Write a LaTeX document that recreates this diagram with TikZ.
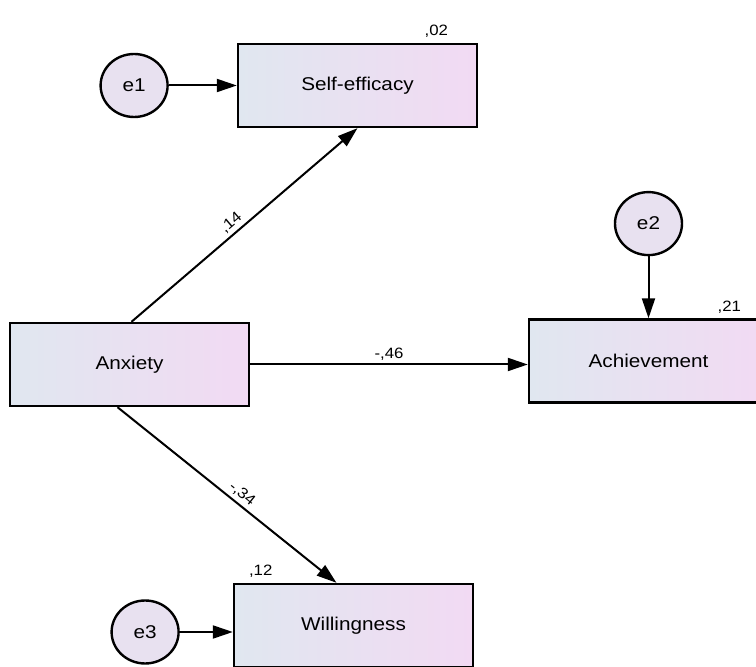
\documentclass[tikz,border=0pt]{standalone}
\usepackage{fontspec}
\usetikzlibrary{arrows.meta,positioning,shapes.geometric}
\newfontfamily\amosfont[FakeStretch=1.12]{Liberation Sans}
\definecolor{boxleft}{RGB}{224,231,240}
\definecolor{boxright}{RGB}{242,218,243}
\definecolor{errfill}{RGB}{232,225,240}

\begin{document}
\begin{tikzpicture}[x=1pt,y=1pt,>={Triangle[length=20pt,width=13pt]},
  obs node/.style={rectangle,draw,line width=2.4pt,left color=boxleft,right color=boxright,
    minimum width=239pt,minimum height=83pt,inner sep=0pt,font=\amosfont\fontsize{18.5}{21}\selectfont},
  err node/.style={ellipse,draw,line width=2.4pt,fill=errfill,minimum width=67pt,minimum height=63pt,
    inner sep=0pt,font=\amosfont\fontsize{18.5}{21}\selectfont},
  reg/.style={->,line width=2pt},
  est/.style={font=\amosfont\fontsize{15}{17}\selectfont,inner sep=3pt}]
  \clip (0,0) rectangle (756,667);
  \node[obs node] (anx) at (129.5,302.5) {Anxiety};
  \node[obs node] (se) at (357.5,581.5) {Self-efficacy};
  \node[obs node] (ach) at (648.5,306) {Achievement};
  \node[obs node] (will) at (353.5,41.5) {Willingness};
  \node[err node] (e1) [left=68pt of se] {e1};
  \node[err node] (e2) [above=62pt of ach] {e2};
  \node[err node] (e3) [left=53pt of will,yshift=-6.5pt] {e3};
  % squared multiple correlations
  \node[est,anchor=south east] (r2se) at ([xshift=-27pt,yshift=2pt]se.north east) {,02};
  \node[est,anchor=south east] (r2ach) at ([xshift=-25pt,yshift=2pt]ach.north east) {,21};
  \node[est,anchor=south west] (r2will) at ([xshift=13pt,yshift=2pt]will.north west) {,12};
  % paths
  \draw[reg] (e1) -- (se);
  \draw[reg] (e2) -- (ach);
  \draw[reg] (e3) -- (e3 -| will.west);
  \draw[reg] ([xshift=2pt]anx.north) -- node[est,sloped,above,pos=0.47] (b1) {,14} (se.south);
  \draw[reg] (anx.east) -- node[est,above] (b2) {-,46} (anx.east -| ach.west);
  \draw[reg] ([xshift=-12pt]anx.south) -- node[est,sloped,above,pos=0.54] (b3) {-,34} ([xshift=-17pt]will.north);
\end{tikzpicture}
\end{document}
